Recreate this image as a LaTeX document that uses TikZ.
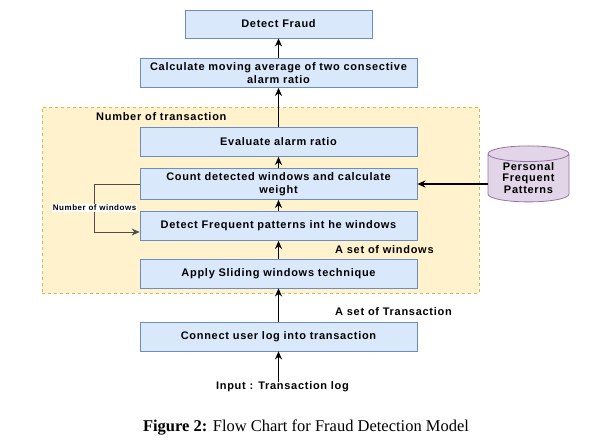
\documentclass[tikz,border=0pt]{standalone}
\usepackage{fontspec}
\setmainfont{Liberation Sans}
\newfontfamily\capfont{Liberation Serif}
\usetikzlibrary{arrows.meta, positioning, shapes.geometric}
\definecolor{boxfill}{HTML}{DAE8FC}
\definecolor{boxline}{HTML}{6C8EBF}
\definecolor{areafill}{HTML}{FFF2CC}
\definecolor{arealine}{HTML}{D6B656}
\definecolor{dbfill}{HTML}{E1D5E7}
\definecolor{dbline}{HTML}{9673A6}

\begin{document}
\begin{tikzpicture}[
            x=1pt,
            y=-1pt,
            >={Stealth[length=8pt,width=7pt]},
            stepbox/.style={draw=boxline, fill=boxfill, line width=0.8pt,
                minimum width=277pt, minimum height=29pt, inner sep=1pt,
                align=center, font=\fontsize{11}{12.5}\selectfont\bfseries\addfontfeature{LetterSpace=6.5}},
            lbl/.style={inner sep=0pt, font=\fontsize{11}{12.5}\selectfont\bfseries\addfontfeature{LetterSpace=6.5}},
            flow/.style={->, line width=1.9pt}
            ]
            \useasboundingbox (0,0) rectangle (596,442);

            % 背景区域
            \node[draw=arealine, fill=areafill, dashed, line width=0.7pt, inner sep=0pt,
                minimum width=437pt, minimum height=186pt] (area) at (260.5,200) {};
            \node[lbl, anchor=west] (ntrans) at (96,117) {Number of transaction};

            % 流程框
            \node[stepbox, minimum width=187pt, minimum height=28pt] (fraud) at (278.5,24) {Detect Fraud};
            \node[stepbox] (calc) at (278.5,73) {Calculate moving average of two consective\\alarm ratio};
            \node[stepbox] (eval) at (278.5,142) {Evaluate alarm ratio};
            \node[stepbox, minimum height=31pt] (count) at (278.5,184) {Count detected windows and calculate\\weight};
            \node[stepbox] (detect) at (278.5,226) {Detect Frequent patterns int he windows};
            \node[stepbox] (apply) at (278.5,273.5) {Apply Sliding windows technique};
            \node[stepbox] (conn) at (278.5,336.5) {Connect user log into transaction};

            % 数据库
            \node[cylinder, shape border rotate=90, aspect=0.3, draw=dbline, fill=dbfill,
                line width=0.8pt, minimum width=81pt, minimum height=56pt, inner sep=0pt,
                align=center, font=\fontsize{11}{11.8}\selectfont\bfseries\addfontfeature{LetterSpace=6.5}] (db) at (528.5,178)
                {Personal\\Frequent\\Patterns};

            % 文字
            \node[lbl] (input) at (282.5,387) {Input : Transaction log};
            \node[lbl, anchor=west] (settrans) at (335,312) {A set of Transaction};
            \node[lbl, anchor=west] (setwin) at (335,250) {A set of windows};
            \node[inner sep=0pt, font=\capfont\fontsize{16.5}{18}\selectfont] (caption) at (306,428)
                {\textbf{Figure 2:} Flow Chart for Fraud Detection Model};

            % 箭头
            \draw[flow] (conn.south |- input.north) -- (conn.south);
            \draw[flow] (conn.north) -- (apply.south);
            \draw[flow] (apply.north) -- (detect.south);
            \draw[flow] (detect.north) -- (count.south);
            \draw[flow] (count.north) -- (eval.south);
            \draw[flow] (eval.north) -- (calc.south);
            \draw[flow] (calc.north) -- (fraud.south);
            \draw[flow] (db.west |- count.east) -- (count.east);

            % 反馈
            \draw[->, line width=0.9pt, draw=black!70] (count.west) -- ++(-45,0)
                |- ([yshift=-6pt]detect.west)
                node[pos=0.25, fill=white, inner sep=1pt, text=black,
                    font=\fontsize{8}{9}\selectfont\bfseries\addfontfeature{LetterSpace=6.5}] (nwin) {Number of windows};
\end{tikzpicture}
\end{document}
